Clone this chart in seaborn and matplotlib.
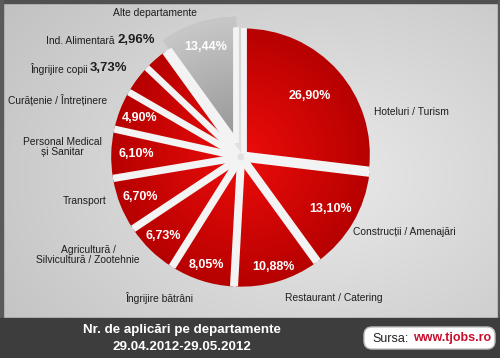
import numpy as np
import matplotlib
matplotlib.use("Agg")
import matplotlib.pyplot as plt
import seaborn as sns
from matplotlib import font_manager
from matplotlib.patches import Rectangle, FancyBboxPatch, Circle

# ---------------- data ----------------
categories = ["Hoteluri / Turism", "Construcții / Amenajări", "Restaurant / Catering",
              "Îngrijire bătrâni", "Agricultură /\nSilvicultură / Zootehnie", "Transport",
              "Personal Medical\nși Sanitar", "Curățenie / Întreținere", "Îngrijire copii",
              "Ind. Alimentară", "Alte departamente"]
# shares as drawn in the picture (the grey slice is drawn at ~9.95% of the circle)
slice_values = [26.90, 13.10, 10.88, 8.05, 6.73, 6.70, 6.10, 4.90, 3.73, 2.96, 9.95]
pct_labels = ["26,90%", "13,10%", "10,88%", "8,05%", "6,73%", "6,70%",
              "6,10%", "4,90%", "3,73%", "2,96%", "13,44%"]
title_lines = ["Nr. de aplicări pe departamente", "29.04.2012-29.05.2012"]
source_label = "Sursa:"
source_url = "www.tjobs.ro"

# ---------------- style ----------------
sns.set_theme(style="white")
names = {f.name for f in font_manager.fontManager.ttflist}
NARROW = "Liberation Sans Narrow" if "Liberation Sans Narrow" in names else "Liberation Sans"
plt.rcParams["font.family"] = ["Liberation Sans", "DejaVu Sans"]
narrow_scale = 1.0 if NARROW == "Liberation Sans Narrow" else 0.86

W, H = 500, 358
fig = plt.figure(figsize=(5, 3.58), dpi=100)

# background axes in pixel coordinates (y downwards)
bg = fig.add_axes([0, 0, 1, 1])
bg.set_axis_off()
yy, xx = np.mgrid[0:H, 0:W]
d = np.hypot((xx - 320) / 330.0, (yy - 175) / 240.0)
g = 0.915 - 0.13 * np.clip(d, 0, 1.3)
bg.imshow(np.dstack([g, g, g]), extent=(0, W, H, 0), aspect="auto", zorder=0)
bg.set_xlim(0, W)
bg.set_ylim(H, 0)
# frame
bg.add_patch(Rectangle((0, 0), W, 2.5, color="#505050", zorder=1))
bg.add_patch(Rectangle((0, 0), 2.5, H, color="#5a5a5a", zorder=1))
bg.add_patch(Rectangle((W - 2.5, 0), 2.5, H, color="#5a5a5a", zorder=1))
bg.add_patch(Rectangle((0, 318), W, H - 318, color="#3d3d3d", zorder=1))

# ---------------- pie ----------------
cx, cy, R = 241, 157, 126
half = 1.25 * R
ax = fig.add_axes([(cx - half) / W, (H - cy - half) / H, 2 * half / W, 2 * half / H])
ax.set_axis_off()
ax.patch.set_alpha(0)

explode = [0.03] * 10 + [0.12]
wedges, _ = ax.pie(slice_values, startangle=90, counterclock=False, explode=explode,
                   colors=["#c00000"] * 10 + ["#a0a0a0"],
                   wedgeprops=dict(linewidth=0))

# radial gradient fill for each wedge
gx = np.linspace(-1.3, 1.3, 300)
GX, GY = np.meshgrid(gx, gx)
rr = np.clip(np.hypot(GX, GY), 0, 1.1) / 1.1
c_in = np.array([0.93, 0.05, 0.04])
c_out = np.array([0.70, 0.0, 0.0])
red_img = c_in[None, None, :] + (c_out - c_in)[None, None, :] * rr[..., None]
gin = np.array([0.56, 0.56, 0.56])
gout = np.array([0.78, 0.78, 0.78])
grey_img = gin[None, None, :] + (gout - gin)[None, None, :] * rr[..., None]
clip_circle = Circle((0, 0), 1.03, transform=ax.transData)
for i, w in enumerate(wedges):
    w.set_facecolor("none")
    w.set_zorder(3)
    im = ax.imshow(grey_img if i == 10 else red_img, extent=(-1.3, 1.3, -1.3, 1.3),
                   origin="lower", zorder=2, interpolation="bilinear")
    im.set_clip_path(w)
    # white separating strokes along the two straight sides of the wedge
    for th in (w.theta1, w.theta2):
        t = np.deg2rad(th)
        ln, = ax.plot([w.center[0], w.center[0] + w.r * np.cos(t)],
                      [w.center[1], w.center[1] + w.r * np.sin(t)],
                      color="#f3f3f3", lw=4.2, solid_capstyle="butt", zorder=4)
        ln.set_clip_path(clip_circle)

ax.set_xlim(-1.25, 1.25)
ax.set_ylim(-1.25, 1.25)

# percentage labels inside wedges
pct_r = [0.70, 0.79, 0.88, 0.87, 0.85, 0.83, 0.80, 0.83, None, None, 0.80]
for i, w in enumerate(wedges):
    if pct_r[i] is None:
        continue
    th = np.deg2rad((w.theta1 + w.theta2) / 2)
    x = w.center[0] + pct_r[i] * w.r * np.cos(th)
    y = w.center[1] + pct_r[i] * w.r * np.sin(th)
    ax.text(x, y, pct_labels[i], color="white", fontsize=10.5 * narrow_scale,
            fontweight="bold", family=NARROW, ha="center", va="center", zorder=5)

# category labels (pixel positions)
lab_pos = [(374, 112, "left"), (353, 232, "left"), (285, 298, "left"),
           (159, 298, "center"), (88, 255, "center"), (107, 201, "right"),
           (62, 147, "center"), (58, 100, "center"), (88, 69, "right"),
           (115, 41, "right"), (155, 13, "center")]
for i, (x, y, ha) in enumerate(lab_pos):
    bg.text(x, y, categories[i], color="#1e1e1e", fontsize=8.6 * narrow_scale,
            family=NARROW, ha=ha, va="center", linespacing=1.05, zorder=5)
for i, (x, y) in [(8, (90, 68)), (9, (117, 40))]:
    bg.text(x, y, pct_labels[i], color="#1e1e1e", fontsize=11 * narrow_scale,
            fontweight="bold", family=NARROW, ha="left", va="center", zorder=5)

# ---------------- footer ----------------
bg.text(182, 330, title_lines[0], color="white", fontsize=9.6, fontweight="bold",
        ha="center", va="center", zorder=5)
bg.text(182, 347, title_lines[1], color="white", fontsize=9.6, fontweight="bold",
        ha="center", va="center", zorder=5)
bg.add_patch(FancyBboxPatch((364, 327), 131, 22,
                            boxstyle="round,pad=0,rounding_size=8",
                            facecolor="white", edgecolor="#bdbdbd", linewidth=1, zorder=4))
bg.text(372, 338.5, source_label, color="#222222", fontsize=9, ha="left", va="center", zorder=5)
bg.text(413, 338.5, source_url, color="#c8102e", fontsize=9, fontweight="bold",
        ha="left", va="center", zorder=5)

fig.savefig("out.png", dpi=100)
